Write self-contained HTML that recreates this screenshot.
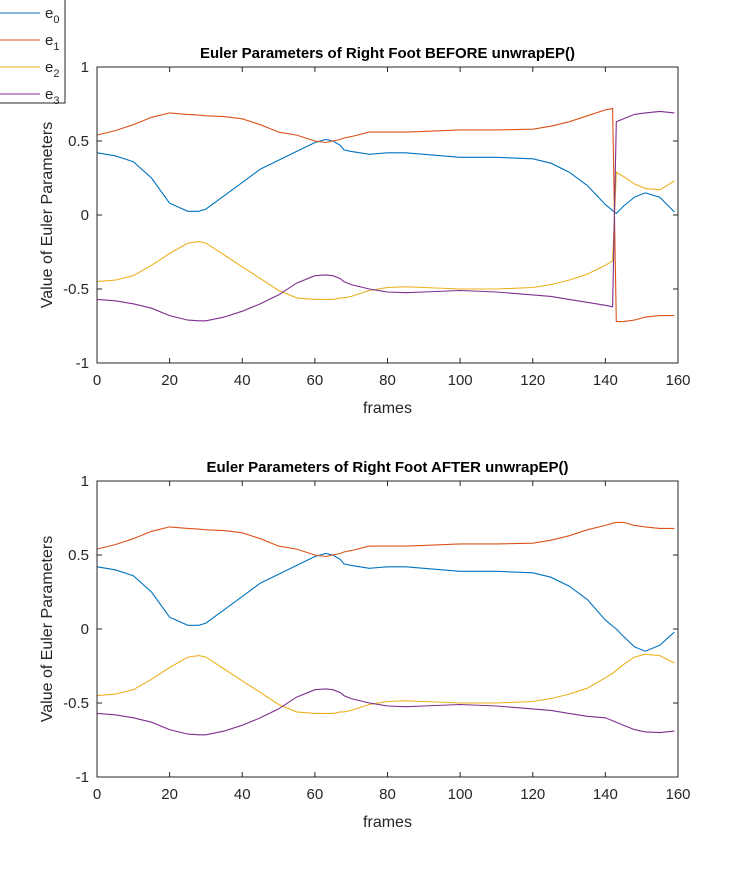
<!DOCTYPE html>
<html><head><meta charset="utf-8"><style>
body{margin:0;background:#fff;width:750px;height:875px;overflow:hidden}
svg{font-family:"Liberation Sans",sans-serif}
</style></head><body>
<svg id="chart" width="750" height="875" xmlns="http://www.w3.org/2000/svg"></svg>
<script>
const frames=[0,5,10,15,20,25,28,30,35,40,45,50,55,60,63,65,67,68,70,75,80,85,90,100,110,120,125,130,135,140,142,143,145,148,151,155,159];
const e0Before=[0.42,0.40,0.36,0.25,0.08,0.025,0.025,0.04,0.13,0.22,0.31,0.37,0.43,0.49,0.51,0.50,0.47,0.44,0.43,0.41,0.42,0.42,0.41,0.39,0.39,0.38,0.35,0.29,0.2,0.07,0.03,0.01,0.06,0.12,0.15,0.12,0.02];
const e1Before=[0.54,0.57,0.61,0.66,0.69,0.68,0.675,0.67,0.665,0.65,0.61,0.56,0.54,0.50,0.49,0.50,0.51,0.52,0.53,0.56,0.56,0.56,0.565,0.575,0.575,0.58,0.6,0.63,0.67,0.71,0.72,-0.72,-0.72,-0.71,-0.69,-0.68,-0.68];
const e2Before=[-0.45,-0.44,-0.41,-0.34,-0.26,-0.19,-0.18,-0.19,-0.27,-0.35,-0.43,-0.51,-0.56,-0.57,-0.57,-0.57,-0.56,-0.56,-0.55,-0.51,-0.49,-0.485,-0.49,-0.5,-0.5,-0.49,-0.47,-0.44,-0.4,-0.34,-0.31,0.29,0.26,0.21,0.18,0.17,0.23];
const e3Before=[-0.57,-0.58,-0.6,-0.63,-0.68,-0.71,-0.715,-0.715,-0.69,-0.65,-0.6,-0.54,-0.46,-0.41,-0.405,-0.41,-0.43,-0.45,-0.47,-0.5,-0.52,-0.525,-0.52,-0.51,-0.52,-0.54,-0.55,-0.57,-0.59,-0.61,-0.62,0.63,0.65,0.68,0.69,0.70,0.69];
const e0After=[0.42,0.40,0.36,0.25,0.08,0.025,0.025,0.04,0.13,0.22,0.31,0.37,0.43,0.49,0.51,0.50,0.47,0.44,0.43,0.41,0.42,0.42,0.41,0.39,0.39,0.38,0.35,0.29,0.2,0.06,0.02,0.0,-0.05,-0.12,-0.15,-0.11,-0.02];
const e1After=[0.54,0.57,0.61,0.66,0.69,0.68,0.675,0.67,0.665,0.65,0.61,0.56,0.54,0.50,0.49,0.50,0.51,0.52,0.53,0.56,0.56,0.56,0.565,0.575,0.575,0.58,0.6,0.63,0.67,0.70,0.715,0.72,0.72,0.70,0.69,0.68,0.68];
const e2After=[-0.45,-0.44,-0.41,-0.34,-0.26,-0.19,-0.18,-0.19,-0.27,-0.35,-0.43,-0.51,-0.56,-0.57,-0.57,-0.57,-0.56,-0.56,-0.55,-0.51,-0.49,-0.485,-0.49,-0.5,-0.5,-0.49,-0.47,-0.44,-0.4,-0.33,-0.3,-0.28,-0.24,-0.19,-0.17,-0.18,-0.23];
const e3After=[-0.57,-0.58,-0.6,-0.63,-0.68,-0.71,-0.715,-0.715,-0.69,-0.65,-0.6,-0.54,-0.46,-0.41,-0.405,-0.41,-0.43,-0.45,-0.47,-0.5,-0.52,-0.525,-0.52,-0.51,-0.52,-0.54,-0.55,-0.57,-0.59,-0.6,-0.62,-0.63,-0.65,-0.68,-0.695,-0.70,-0.69];
const xTicks=[0,20,40,60,80,100,120,140,160];
const yTicks=[-1,-0.5,0,0.5,1];
const yTickLabels=["-1","-0.5","0","0.5","1"];
const seriesNames=["e0","e1","e2","e3"];
const colors=["#0072BD","#D95319","#EDB120","#7E2F8E"];
const NS="http://www.w3.org/2000/svg";
const svg=document.getElementById('chart');
function mk(tag,attrs,parent,text){const e=document.createElementNS(NS,tag);for(const k in attrs)e.setAttribute(k,attrs[k]);if(text!==undefined)e.textContent=text;(parent||svg).appendChild(e);return e;}
function drawAxes(top,title,series,key){
  const L=97,R=678,T=top,B=top+296;
  const xs=v=>L+(v-0)/(160-0)*(R-L);
  const ys=v=>B-(v+1)/2*(B-T);
  const g=mk('g',{});
  
  
  mk('rect',{x:L,y:T,width:R-L,height:B-T,fill:'#fff',stroke:'none'},g);
  series.forEach((s,i)=>{
    const pts=frames.map((f,j)=>xs(f).toFixed(1)+','+ys(s[j]).toFixed(1)).join(' ');
    const pl=mk('polyline',{points:pts,fill:'none',stroke:colors[i],'stroke-width':1.1},g);
    
    
  });
  mk('rect',{x:L,y:T,width:R-L,height:B-T,fill:'none',stroke:'#262626','stroke-width':1},g);
  xTicks.forEach(t=>{const x=xs(t);
    mk('line',{x1:x,y1:B,x2:x,y2:B-5,stroke:'#262626'},g);
    mk('line',{x1:x,y1:T,x2:x,y2:T+5,stroke:'#262626'},g);
    const tx=mk('text',{x:x,y:B+22,'text-anchor':'middle','font-size':15,fill:'#262626'},g,String(t));
    
    
  });
  yTicks.forEach((t,i)=>{const y=ys(t);
    mk('line',{x1:L,y1:y,x2:L+5,y2:y,stroke:'#262626'},g);
    mk('line',{x1:R,y1:y,x2:R-5,y2:y,stroke:'#262626'},g);
    const tx=mk('text',{x:L-8,y:y+5,'text-anchor':'end','font-size':15,fill:'#262626'},g,yTickLabels[i]);
    
    
  });
  const ti=mk('text',{x:(L+R)/2,y:T-9,'text-anchor':'middle','font-size':15,'font-weight':'bold',fill:'#000'},g,title);
  
  
  const xl=mk('text',{x:(L+R)/2,y:B+50,'text-anchor':'middle','font-size':16,fill:'#262626'},g,'frames');
  
  
  const yl=mk('text',{x:0,y:0,'text-anchor':'middle','font-size':16,fill:'#262626',transform:`translate(52,${(T+B)/2}) rotate(-90)`},g,'Value of Euler Parameters');
  
  
}
drawAxes(67,'Euler Parameters of Right Foot BEFORE unwrapEP()',[e0Before,e1Before,e2Before,e3Before],'before');
drawAxes(481,'Euler Parameters of Right Foot AFTER unwrapEP()',[e0After,e1After,e2After,e3After],'after');
// legend
const lg=mk('g',{});


mk('rect',{x:-10,y:-1,width:75,height:104,fill:'#fff',stroke:'#262626'},lg);
seriesNames.forEach((n,i)=>{
  const y=13+i*27;
  const en=mk('g',{},lg);
  
  
  mk('line',{x1:0,y1:y,x2:40,y2:y,stroke:colors[i],'stroke-width':1.1},en);
  const t=mk('text',{x:45,y:y+5,'font-size':15,fill:'#262626'},en,'e');
  mk('tspan',{dy:5,'font-size':11},t,String(i));
});
</script>
</body></html>
